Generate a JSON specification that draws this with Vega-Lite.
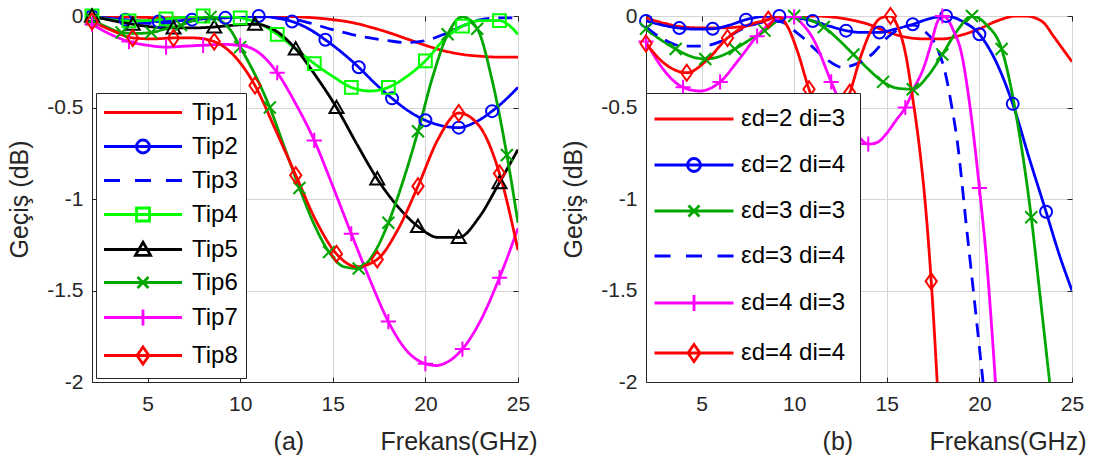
{
  "$schema": "https://vega.github.io/schema/vega-lite/v6.json",
  "background": "white",
  "padding": {"left": 6, "top": 3, "right": 0, "bottom": 0},
  "spacing": 22,
  "datasets": {
    "a": [
      {"s":"Tip1","x":2,"y":0},{"s":"Tip1","x":3,"y":-0.002},{"s":"Tip1","x":4,"y":-0.005},{"s":"Tip1","x":5,"y":-0.008},{"s":"Tip1","x":6,"y":-0.01},{"s":"Tip1","x":7,"y":-0.008},{"s":"Tip1","x":8,"y":-0.005},{"s":"Tip1","x":9,"y":-0.002},{"s":"Tip1","x":10,"y":0},{"s":"Tip1","x":11,"y":0},{"s":"Tip1","x":12,"y":0},{"s":"Tip1","x":13,"y":-0.004},{"s":"Tip1","x":14,"y":-0.01},{"s":"Tip1","x":15,"y":-0.02},{"s":"Tip1","x":16,"y":-0.035},{"s":"Tip1","x":17,"y":-0.06},{"s":"Tip1","x":18,"y":-0.09},{"s":"Tip1","x":19,"y":-0.125},{"s":"Tip1","x":20,"y":-0.16},{"s":"Tip1","x":21,"y":-0.19},{"s":"Tip1","x":22,"y":-0.21},{"s":"Tip1","x":23,"y":-0.22},{"s":"Tip1","x":24,"y":-0.225},{"s":"Tip1","x":25,"y":-0.225},
      {"s":"Tip2","x":2,"y":0},{"s":"Tip2","x":2.9,"y":-0.012},{"s":"Tip2","x":3.8,"y":-0.02},{"s":"Tip2","x":4.7,"y":-0.027},{"s":"Tip2","x":5.6,"y":-0.03},{"s":"Tip2","x":6.5,"y":-0.027},{"s":"Tip2","x":7.4,"y":-0.02},{"s":"Tip2","x":8.3,"y":-0.014},{"s":"Tip2","x":9.2,"y":-0.01},{"s":"Tip2","x":10.1,"y":-0.004},{"s":"Tip2","x":11,"y":0},{"s":"Tip2","x":11.9,"y":-0.01},{"s":"Tip2","x":12.8,"y":-0.03},{"s":"Tip2","x":13.7,"y":-0.07},{"s":"Tip2","x":14.6,"y":-0.13},{"s":"Tip2","x":15.5,"y":-0.2},{"s":"Tip2","x":16.4,"y":-0.28},{"s":"Tip2","x":17.3,"y":-0.37},{"s":"Tip2","x":18.2,"y":-0.45},{"s":"Tip2","x":19.1,"y":-0.52},{"s":"Tip2","x":20,"y":-0.57},{"s":"Tip2","x":20.9,"y":-0.6},{"s":"Tip2","x":21.8,"y":-0.61},{"s":"Tip2","x":22.7,"y":-0.58},{"s":"Tip2","x":23.6,"y":-0.52},{"s":"Tip2","x":24.3,"y":-0.46},{"s":"Tip2","x":25,"y":-0.39},
      {"s":"Tip3","x":2,"y":0},{"s":"Tip3","x":3,"y":-0.02},{"s":"Tip3","x":4,"y":-0.03},{"s":"Tip3","x":5,"y":-0.04},{"s":"Tip3","x":6,"y":-0.04},{"s":"Tip3","x":7,"y":-0.03},{"s":"Tip3","x":8,"y":-0.02},{"s":"Tip3","x":9,"y":-0.01},{"s":"Tip3","x":10,"y":-0.005},{"s":"Tip3","x":11,"y":-0.005},{"s":"Tip3","x":12,"y":-0.01},{"s":"Tip3","x":13,"y":-0.02},{"s":"Tip3","x":14,"y":-0.045},{"s":"Tip3","x":15,"y":-0.075},{"s":"Tip3","x":16,"y":-0.1},{"s":"Tip3","x":17,"y":-0.12},{"s":"Tip3","x":18,"y":-0.135},{"s":"Tip3","x":19,"y":-0.145},{"s":"Tip3","x":20,"y":-0.135},{"s":"Tip3","x":21,"y":-0.1},{"s":"Tip3","x":22,"y":-0.055},{"s":"Tip3","x":23,"y":-0.02},{"s":"Tip3","x":24,"y":-0.01},{"s":"Tip3","x":25,"y":-0.01},
      {"s":"Tip4","x":2,"y":0},{"s":"Tip4","x":3,"y":-0.02},{"s":"Tip4","x":4,"y":-0.027},{"s":"Tip4","x":5,"y":-0.025},{"s":"Tip4","x":6,"y":-0.016},{"s":"Tip4","x":7,"y":-0.006},{"s":"Tip4","x":8,"y":0},{"s":"Tip4","x":9,"y":0},{"s":"Tip4","x":10,"y":-0.01},{"s":"Tip4","x":11,"y":-0.04},{"s":"Tip4","x":12,"y":-0.1},{"s":"Tip4","x":13,"y":-0.18},{"s":"Tip4","x":14,"y":-0.26},{"s":"Tip4","x":15,"y":-0.33},{"s":"Tip4","x":16,"y":-0.39},{"s":"Tip4","x":17,"y":-0.41},{"s":"Tip4","x":18,"y":-0.39},{"s":"Tip4","x":19,"y":-0.33},{"s":"Tip4","x":20,"y":-0.245},{"s":"Tip4","x":21,"y":-0.13},{"s":"Tip4","x":22,"y":-0.055},{"s":"Tip4","x":23,"y":-0.025},{"s":"Tip4","x":24,"y":-0.025},{"s":"Tip4","x":24.5,"y":-0.05},{"s":"Tip4","x":25,"y":-0.1},
      {"s":"Tip5","x":2,"y":0},{"s":"Tip5","x":3.1,"y":-0.025},{"s":"Tip5","x":4.2,"y":-0.045},{"s":"Tip5","x":5.3,"y":-0.06},{"s":"Tip5","x":6.4,"y":-0.065},{"s":"Tip5","x":7.5,"y":-0.065},{"s":"Tip5","x":8.6,"y":-0.06},{"s":"Tip5","x":9.7,"y":-0.05},{"s":"Tip5","x":10.8,"y":-0.045},{"s":"Tip5","x":11.9,"y":-0.08},{"s":"Tip5","x":13,"y":-0.18},{"s":"Tip5","x":14.1,"y":-0.33},{"s":"Tip5","x":15.2,"y":-0.5},{"s":"Tip5","x":16.3,"y":-0.7},{"s":"Tip5","x":17.4,"y":-0.89},{"s":"Tip5","x":18.5,"y":-1.04},{"s":"Tip5","x":19.6,"y":-1.15},{"s":"Tip5","x":20.7,"y":-1.21},{"s":"Tip5","x":21.8,"y":-1.21},{"s":"Tip5","x":22.9,"y":-1.1},{"s":"Tip5","x":24,"y":-0.91},{"s":"Tip5","x":25,"y":-0.73},
      {"s":"Tip6","x":2,"y":-0.02},{"s":"Tip6","x":2.8,"y":-0.06},{"s":"Tip6","x":3.6,"y":-0.09},{"s":"Tip6","x":4.4,"y":-0.095},{"s":"Tip6","x":5.2,"y":-0.09},{"s":"Tip6","x":6,"y":-0.07},{"s":"Tip6","x":6.8,"y":-0.05},{"s":"Tip6","x":7.6,"y":-0.02},{"s":"Tip6","x":8.4,"y":-0.005},{"s":"Tip6","x":9,"y":-0.03},{"s":"Tip6","x":9.5,"y":-0.08},{"s":"Tip6","x":10,"y":-0.17},{"s":"Tip6","x":10.8,"y":-0.32},{"s":"Tip6","x":11.6,"y":-0.5},{"s":"Tip6","x":12.4,"y":-0.72},{"s":"Tip6","x":13.2,"y":-0.94},{"s":"Tip6","x":14,"y":-1.14},{"s":"Tip6","x":14.8,"y":-1.29},{"s":"Tip6","x":15.6,"y":-1.37},{"s":"Tip6","x":16.4,"y":-1.38},{"s":"Tip6","x":17.2,"y":-1.3},{"s":"Tip6","x":18,"y":-1.13},{"s":"Tip6","x":18.8,"y":-0.9},{"s":"Tip6","x":19.6,"y":-0.63},{"s":"Tip6","x":20.4,"y":-0.33},{"s":"Tip6","x":21.2,"y":-0.1},{"s":"Tip6","x":22,"y":-0.005},{"s":"Tip6","x":22.8,"y":-0.07},{"s":"Tip6","x":23.6,"y":-0.35},{"s":"Tip6","x":24.4,"y":-0.76},{"s":"Tip6","x":25,"y":-1.13},
      {"s":"Tip7","x":2,"y":-0.045},{"s":"Tip7","x":3,"y":-0.1},{"s":"Tip7","x":4,"y":-0.14},{"s":"Tip7","x":5,"y":-0.16},{"s":"Tip7","x":6,"y":-0.17},{"s":"Tip7","x":7,"y":-0.165},{"s":"Tip7","x":8,"y":-0.16},{"s":"Tip7","x":9,"y":-0.155},{"s":"Tip7","x":10,"y":-0.16},{"s":"Tip7","x":11,"y":-0.2},{"s":"Tip7","x":12,"y":-0.31},{"s":"Tip7","x":13,"y":-0.48},{"s":"Tip7","x":14,"y":-0.68},{"s":"Tip7","x":15,"y":-0.93},{"s":"Tip7","x":16,"y":-1.19},{"s":"Tip7","x":17,"y":-1.44},{"s":"Tip7","x":18,"y":-1.67},{"s":"Tip7","x":19,"y":-1.83},{"s":"Tip7","x":20,"y":-1.9},{"s":"Tip7","x":20.6,"y":-1.91},{"s":"Tip7","x":21,"y":-1.9},{"s":"Tip7","x":22,"y":-1.82},{"s":"Tip7","x":23,"y":-1.66},{"s":"Tip7","x":24,"y":-1.43},{"s":"Tip7","x":25,"y":-1.16},
      {"s":"Tip8","x":2,"y":-0.03},{"s":"Tip8","x":3.1,"y":-0.08},{"s":"Tip8","x":4.2,"y":-0.12},{"s":"Tip8","x":5.3,"y":-0.125},{"s":"Tip8","x":6.4,"y":-0.12},{"s":"Tip8","x":7.5,"y":-0.12},{"s":"Tip8","x":8.6,"y":-0.14},{"s":"Tip8","x":9.7,"y":-0.22},{"s":"Tip8","x":10.8,"y":-0.38},{"s":"Tip8","x":11.9,"y":-0.62},{"s":"Tip8","x":13,"y":-0.87},{"s":"Tip8","x":14.1,"y":-1.12},{"s":"Tip8","x":15.2,"y":-1.3},{"s":"Tip8","x":16.3,"y":-1.37},{"s":"Tip8","x":17.4,"y":-1.33},{"s":"Tip8","x":18.5,"y":-1.17},{"s":"Tip8","x":19.6,"y":-0.93},{"s":"Tip8","x":20.7,"y":-0.67},{"s":"Tip8","x":21.8,"y":-0.53},{"s":"Tip8","x":22.9,"y":-0.6},{"s":"Tip8","x":24,"y":-0.86},{"s":"Tip8","x":25,"y":-1.28}
    ],
    "am": [
      {"s":"Tip2","x":2,"y":0},{"s":"Tip2","x":3.8,"y":-0.02},{"s":"Tip2","x":5.6,"y":-0.03},{"s":"Tip2","x":7.4,"y":-0.02},{"s":"Tip2","x":9.2,"y":-0.01},{"s":"Tip2","x":11,"y":0},{"s":"Tip2","x":12.8,"y":-0.03},{"s":"Tip2","x":14.6,"y":-0.13},{"s":"Tip2","x":16.4,"y":-0.28},{"s":"Tip2","x":18.2,"y":-0.45},{"s":"Tip2","x":20,"y":-0.57},{"s":"Tip2","x":21.8,"y":-0.61},{"s":"Tip2","x":23.6,"y":-0.52},
      {"s":"Tip4","x":2,"y":0},{"s":"Tip4","x":4,"y":-0.027},{"s":"Tip4","x":6,"y":-0.016},{"s":"Tip4","x":8,"y":0},{"s":"Tip4","x":10,"y":-0.01},{"s":"Tip4","x":12,"y":-0.1},{"s":"Tip4","x":14,"y":-0.26},{"s":"Tip4","x":16,"y":-0.39},{"s":"Tip4","x":18,"y":-0.39},{"s":"Tip4","x":20,"y":-0.245},{"s":"Tip4","x":22,"y":-0.055},{"s":"Tip4","x":24,"y":-0.025},
      {"s":"Tip5","x":2,"y":0},{"s":"Tip5","x":4.2,"y":-0.045},{"s":"Tip5","x":6.4,"y":-0.065},{"s":"Tip5","x":8.6,"y":-0.06},{"s":"Tip5","x":10.8,"y":-0.045},{"s":"Tip5","x":13,"y":-0.18},{"s":"Tip5","x":15.2,"y":-0.5},{"s":"Tip5","x":17.4,"y":-0.89},{"s":"Tip5","x":19.6,"y":-1.15},{"s":"Tip5","x":21.8,"y":-1.21},{"s":"Tip5","x":24,"y":-0.91},
      {"s":"Tip6","x":2,"y":-0.02},{"s":"Tip6","x":3.6,"y":-0.09},{"s":"Tip6","x":5.2,"y":-0.09},{"s":"Tip6","x":6.8,"y":-0.05},{"s":"Tip6","x":8.4,"y":-0.005},{"s":"Tip6","x":10,"y":-0.17},{"s":"Tip6","x":11.6,"y":-0.5},{"s":"Tip6","x":13.2,"y":-0.94},{"s":"Tip6","x":14.8,"y":-1.29},{"s":"Tip6","x":16.4,"y":-1.38},{"s":"Tip6","x":18,"y":-1.13},{"s":"Tip6","x":19.6,"y":-0.63},{"s":"Tip6","x":21.2,"y":-0.1},{"s":"Tip6","x":22.8,"y":-0.07},{"s":"Tip6","x":24.4,"y":-0.76},
      {"s":"Tip7","x":2,"y":-0.045},{"s":"Tip7","x":4,"y":-0.14},{"s":"Tip7","x":6,"y":-0.17},{"s":"Tip7","x":8,"y":-0.16},{"s":"Tip7","x":10,"y":-0.16},{"s":"Tip7","x":12,"y":-0.31},{"s":"Tip7","x":14,"y":-0.68},{"s":"Tip7","x":16,"y":-1.19},{"s":"Tip7","x":18,"y":-1.67},{"s":"Tip7","x":20,"y":-1.9},{"s":"Tip7","x":22,"y":-1.82},{"s":"Tip7","x":24,"y":-1.43},
      {"s":"Tip8","x":2,"y":-0.03},{"s":"Tip8","x":4.2,"y":-0.12},{"s":"Tip8","x":6.4,"y":-0.12},{"s":"Tip8","x":8.6,"y":-0.14},{"s":"Tip8","x":10.8,"y":-0.38},{"s":"Tip8","x":13,"y":-0.87},{"s":"Tip8","x":15.2,"y":-1.3},{"s":"Tip8","x":17.4,"y":-1.33},{"s":"Tip8","x":19.6,"y":-0.93},{"s":"Tip8","x":21.8,"y":-0.53},{"s":"Tip8","x":24,"y":-0.86}
    ],
    "b": [
      {"s":"εd=2 di=3","x":2,"y":-0.01},{"s":"εd=2 di=3","x":3,"y":-0.04},{"s":"εd=2 di=3","x":4,"y":-0.06},{"s":"εd=2 di=3","x":5,"y":-0.065},{"s":"εd=2 di=3","x":6,"y":-0.065},{"s":"εd=2 di=3","x":7,"y":-0.06},{"s":"εd=2 di=3","x":8,"y":-0.04},{"s":"εd=2 di=3","x":8.5,"y":-0.02},{"s":"εd=2 di=3","x":9,"y":-0.005},{"s":"εd=2 di=3","x":10,"y":0},{"s":"εd=2 di=3","x":11,"y":0},{"s":"εd=2 di=3","x":12,"y":-0.005},{"s":"εd=2 di=3","x":13,"y":-0.02},{"s":"εd=2 di=3","x":14,"y":-0.045},{"s":"εd=2 di=3","x":15,"y":-0.085},{"s":"εd=2 di=3","x":16,"y":-0.115},{"s":"εd=2 di=3","x":17,"y":-0.125},{"s":"εd=2 di=3","x":18,"y":-0.125},{"s":"εd=2 di=3","x":19,"y":-0.105},{"s":"εd=2 di=3","x":20,"y":-0.07},{"s":"εd=2 di=3","x":21,"y":-0.025},{"s":"εd=2 di=3","x":22,"y":0},{"s":"εd=2 di=3","x":22.5,"y":0},{"s":"εd=2 di=3","x":23,"y":-0.01},{"s":"εd=2 di=3","x":23.5,"y":-0.04},{"s":"εd=2 di=3","x":24,"y":-0.11},{"s":"εd=2 di=3","x":24.5,"y":-0.18},{"s":"εd=2 di=3","x":25,"y":-0.25},
      {"s":"εd=2 di=4","x":2,"y":-0.027},{"s":"εd=2 di=4","x":2.9,"y":-0.05},{"s":"εd=2 di=4","x":3.8,"y":-0.066},{"s":"εd=2 di=4","x":4.7,"y":-0.072},{"s":"εd=2 di=4","x":5.6,"y":-0.07},{"s":"εd=2 di=4","x":6.5,"y":-0.05},{"s":"εd=2 di=4","x":7.4,"y":-0.02},{"s":"εd=2 di=4","x":8.3,"y":-0.003},{"s":"εd=2 di=4","x":9.2,"y":0},{"s":"εd=2 di=4","x":10.1,"y":-0.01},{"s":"εd=2 di=4","x":11,"y":-0.027},{"s":"εd=2 di=4","x":11.9,"y":-0.055},{"s":"εd=2 di=4","x":12.8,"y":-0.08},{"s":"εd=2 di=4","x":13.7,"y":-0.09},{"s":"εd=2 di=4","x":14.6,"y":-0.09},{"s":"εd=2 di=4","x":15.5,"y":-0.07},{"s":"εd=2 di=4","x":16.4,"y":-0.045},{"s":"εd=2 di=4","x":17.3,"y":-0.015},{"s":"εd=2 di=4","x":18.2,"y":0},{"s":"εd=2 di=4","x":19.1,"y":-0.03},{"s":"εd=2 di=4","x":20,"y":-0.1},{"s":"εd=2 di=4","x":20.9,"y":-0.25},{"s":"εd=2 di=4","x":21.8,"y":-0.48},{"s":"εd=2 di=4","x":22.7,"y":-0.78},{"s":"εd=2 di=4","x":23.6,"y":-1.07},{"s":"εd=2 di=4","x":24.3,"y":-1.3},{"s":"εd=2 di=4","x":25,"y":-1.5},
      {"s":"εd=3 di=3","x":2,"y":-0.07},{"s":"εd=3 di=3","x":2.8,"y":-0.13},{"s":"εd=3 di=3","x":3.6,"y":-0.18},{"s":"εd=3 di=3","x":4.4,"y":-0.22},{"s":"εd=3 di=3","x":5.2,"y":-0.235},{"s":"εd=3 di=3","x":6,"y":-0.22},{"s":"εd=3 di=3","x":6.8,"y":-0.18},{"s":"εd=3 di=3","x":7.6,"y":-0.13},{"s":"εd=3 di=3","x":8.4,"y":-0.08},{"s":"εd=3 di=3","x":9.2,"y":-0.02},{"s":"εd=3 di=3","x":10,"y":0},{"s":"εd=3 di=3","x":10.8,"y":-0.02},{"s":"εd=3 di=3","x":11.6,"y":-0.06},{"s":"εd=3 di=3","x":12.4,"y":-0.13},{"s":"εd=3 di=3","x":13.2,"y":-0.21},{"s":"εd=3 di=3","x":14,"y":-0.29},{"s":"εd=3 di=3","x":14.8,"y":-0.36},{"s":"εd=3 di=3","x":15.6,"y":-0.395},{"s":"εd=3 di=3","x":16.4,"y":-0.4},{"s":"εd=3 di=3","x":17.2,"y":-0.33},{"s":"εd=3 di=3","x":18,"y":-0.21},{"s":"εd=3 di=3","x":18.8,"y":-0.08},{"s":"εd=3 di=3","x":19.6,"y":0},{"s":"εd=3 di=3","x":20.4,"y":-0.05},{"s":"εd=3 di=3","x":21.2,"y":-0.18},{"s":"εd=3 di=3","x":22,"y":-0.55},{"s":"εd=3 di=3","x":22.8,"y":-1.1},{"s":"εd=3 di=3","x":23.3,"y":-1.55},{"s":"εd=3 di=3","x":23.9,"y":-2.1},
      {"s":"εd=3 di=4","x":2,"y":-0.06},{"s":"εd=3 di=4","x":3,"y":-0.13},{"s":"εd=3 di=4","x":4,"y":-0.165},{"s":"εd=3 di=4","x":5,"y":-0.165},{"s":"εd=3 di=4","x":6,"y":-0.14},{"s":"εd=3 di=4","x":7,"y":-0.08},{"s":"εd=3 di=4","x":8,"y":-0.04},{"s":"εd=3 di=4","x":9,"y":-0.025},{"s":"εd=3 di=4","x":9.5,"y":-0.04},{"s":"εd=3 di=4","x":10,"y":-0.08},{"s":"εd=3 di=4","x":10.5,"y":-0.12},{"s":"εd=3 di=4","x":11,"y":-0.17},{"s":"εd=3 di=4","x":11.8,"y":-0.24},{"s":"εd=3 di=4","x":12.6,"y":-0.28},{"s":"εd=3 di=4","x":13.4,"y":-0.26},{"s":"εd=3 di=4","x":14.3,"y":-0.2},{"s":"εd=3 di=4","x":15,"y":-0.12},{"s":"εd=3 di=4","x":15.7,"y":-0.07},{"s":"εd=3 di=4","x":16.4,"y":-0.05},{"s":"εd=3 di=4","x":17,"y":-0.08},{"s":"εd=3 di=4","x":17.7,"y":-0.17},{"s":"εd=3 di=4","x":18.2,"y":-0.33},{"s":"εd=3 di=4","x":18.5,"y":-0.49},{"s":"εd=3 di=4","x":18.8,"y":-0.68},{"s":"εd=3 di=4","x":19.3,"y":-1.15},{"s":"εd=3 di=4","x":19.8,"y":-1.62},{"s":"εd=3 di=4","x":20.3,"y":-2.1},
      {"s":"εd=4 di=3","x":2,"y":-0.14},{"s":"εd=4 di=3","x":3,"y":-0.3},{"s":"εd=4 di=3","x":4,"y":-0.39},{"s":"εd=4 di=3","x":4.9,"y":-0.41},{"s":"εd=4 di=3","x":6,"y":-0.36},{"s":"εd=4 di=3","x":7,"y":-0.24},{"s":"εd=4 di=3","x":8,"y":-0.11},{"s":"εd=4 di=3","x":9,"y":-0.02},{"s":"εd=4 di=3","x":9.8,"y":0},{"s":"εd=4 di=3","x":10.5,"y":-0.05},{"s":"εd=4 di=3","x":11,"y":-0.12},{"s":"εd=4 di=3","x":12,"y":-0.36},{"s":"εd=4 di=3","x":12.5,"y":-0.48},{"s":"εd=4 di=3","x":13,"y":-0.58},{"s":"εd=4 di=3","x":13.5,"y":-0.66},{"s":"εd=4 di=3","x":14,"y":-0.7},{"s":"εd=4 di=3","x":14.5,"y":-0.69},{"s":"εd=4 di=3","x":15,"y":-0.64},{"s":"εd=4 di=3","x":15.5,"y":-0.57},{"s":"εd=4 di=3","x":16,"y":-0.5},{"s":"εd=4 di=3","x":16.5,"y":-0.39},{"s":"εd=4 di=3","x":17,"y":-0.28},{"s":"εd=4 di=3","x":17.4,"y":-0.15},{"s":"εd=4 di=3","x":17.7,"y":-0.04},{"s":"εd=4 di=3","x":18,"y":0},{"s":"εd=4 di=3","x":18.3,"y":-0.02},{"s":"εd=4 di=3","x":18.6,"y":-0.08},{"s":"εd=4 di=3","x":19,"y":-0.19},{"s":"εd=4 di=3","x":19.5,"y":-0.5},{"s":"εd=4 di=3","x":20,"y":-0.94},{"s":"εd=4 di=3","x":20.4,"y":-1.35},{"s":"εd=4 di=3","x":20.9,"y":-2.05},
      {"s":"εd=4 di=4","x":2,"y":-0.15},{"s":"εd=4 di=4","x":3,"y":-0.26},{"s":"εd=4 di=4","x":4.2,"y":-0.31},{"s":"εd=4 di=4","x":5.3,"y":-0.24},{"s":"εd=4 di=4","x":6.4,"y":-0.12},{"s":"εd=4 di=4","x":7.5,"y":-0.05},{"s":"εd=4 di=4","x":8.6,"y":-0.02},{"s":"εd=4 di=4","x":9.1,"y":0},{"s":"εd=4 di=4","x":9.6,"y":-0.05},{"s":"εd=4 di=4","x":10.2,"y":-0.2},{"s":"εd=4 di=4","x":10.8,"y":-0.4},{"s":"εd=4 di=4","x":11.4,"y":-0.55},{"s":"εd=4 di=4","x":11.9,"y":-0.6},{"s":"εd=4 di=4","x":12.4,"y":-0.56},{"s":"εd=4 di=4","x":13,"y":-0.42},{"s":"εd=4 di=4","x":13.6,"y":-0.22},{"s":"εd=4 di=4","x":14.2,"y":-0.07},{"s":"εd=4 di=4","x":14.7,"y":-0.01},{"s":"εd=4 di=4","x":15.2,"y":0},{"s":"εd=4 di=4","x":15.6,"y":-0.06},{"s":"εd=4 di=4","x":16,"y":-0.2},{"s":"εd=4 di=4","x":16.4,"y":-0.45},{"s":"εd=4 di=4","x":16.8,"y":-0.75},{"s":"εd=4 di=4","x":17.1,"y":-1.05},{"s":"εd=4 di=4","x":17.4,"y":-1.45},{"s":"εd=4 di=4","x":17.75,"y":-2.05}
    ],
    "bm": [
      {"s":"εd=2 di=4","x":2,"y":-0.027},{"s":"εd=2 di=4","x":3.8,"y":-0.066},{"s":"εd=2 di=4","x":5.6,"y":-0.07},{"s":"εd=2 di=4","x":7.4,"y":-0.02},{"s":"εd=2 di=4","x":9.2,"y":0},{"s":"εd=2 di=4","x":11,"y":-0.027},{"s":"εd=2 di=4","x":12.8,"y":-0.08},{"s":"εd=2 di=4","x":14.6,"y":-0.09},{"s":"εd=2 di=4","x":16.4,"y":-0.045},{"s":"εd=2 di=4","x":18.2,"y":0},{"s":"εd=2 di=4","x":20,"y":-0.1},{"s":"εd=2 di=4","x":21.8,"y":-0.48},{"s":"εd=2 di=4","x":23.6,"y":-1.07},
      {"s":"εd=3 di=3","x":2,"y":-0.07},{"s":"εd=3 di=3","x":3.6,"y":-0.18},{"s":"εd=3 di=3","x":5.2,"y":-0.235},{"s":"εd=3 di=3","x":6.8,"y":-0.18},{"s":"εd=3 di=3","x":8.4,"y":-0.08},{"s":"εd=3 di=3","x":10,"y":0},{"s":"εd=3 di=3","x":11.6,"y":-0.06},{"s":"εd=3 di=3","x":13.2,"y":-0.21},{"s":"εd=3 di=3","x":14.8,"y":-0.36},{"s":"εd=3 di=3","x":16.4,"y":-0.4},{"s":"εd=3 di=3","x":18,"y":-0.21},{"s":"εd=3 di=3","x":19.6,"y":0},{"s":"εd=3 di=3","x":21.2,"y":-0.18},{"s":"εd=3 di=3","x":22.8,"y":-1.1},
      {"s":"εd=4 di=3","x":2,"y":-0.14},{"s":"εd=4 di=3","x":4,"y":-0.39},{"s":"εd=4 di=3","x":6,"y":-0.36},{"s":"εd=4 di=3","x":8,"y":-0.11},{"s":"εd=4 di=3","x":10,"y":-0.005},{"s":"εd=4 di=3","x":12,"y":-0.36},{"s":"εd=4 di=3","x":14,"y":-0.7},{"s":"εd=4 di=3","x":16,"y":-0.5},{"s":"εd=4 di=3","x":18,"y":0},{"s":"εd=4 di=3","x":20,"y":-0.94},
      {"s":"εd=4 di=4","x":2,"y":-0.15},{"s":"εd=4 di=4","x":4.2,"y":-0.31},{"s":"εd=4 di=4","x":6.4,"y":-0.12},{"s":"εd=4 di=4","x":8.6,"y":-0.02},{"s":"εd=4 di=4","x":10.8,"y":-0.4},{"s":"εd=4 di=4","x":13,"y":-0.42},{"s":"εd=4 di=4","x":15.2,"y":0},{"s":"εd=4 di=4","x":17.4,"y":-1.45}
    ]
  },
  "hconcat": [
    {
      "width": 426, "height": 366,
      "layer": [
        {
          "data": {"name": "a"},
          "mark": {"type": "line", "strokeWidth": 2.8, "interpolate": "monotone", "clip": true},
          "encoding": {
            "x": {"field": "x", "type": "quantitative", "scale": {"domain": [2, 25], "nice": false, "zero": false},
              "axis": {"orient": "bottom", "values": [5, 10, 15, 20, 25], "grid": true, "tickSize": -5, "labelPadding": 16, "labelFlush": false, "labelOverlap": false, "title": "(a)\u00a0\u00a0\u00a0\u00a0\u00a0\u00a0\u00a0\u00a0\u00a0\u00a0\u00a0Frekans(GHz)", "titleAlign": "right", "titleX": 445, "titlePadding": 15}},
            "y": {"field": "y", "type": "quantitative", "scale": {"domain": [-2, 0], "nice": false, "zero": false},
              "axis": {"orient": "left", "values": [-2, -1.5, -1, -0.5, 0], "grid": true, "tickSize": -5, "labelPadding": 14, "labelExpr": "'' + datum.value", "title": "Geçiş (dB)", "titlePadding": 14.5}},
            "color": {"field": "s", "type": "nominal", "legend": null, "scale": {"domain": ["Tip1","Tip2","Tip3","Tip4","Tip5","Tip6","Tip7","Tip8"], "range": ["#FF0000","#0000FF","#0000FF","#00FF00","#000000","#00A600","#FF00FF","#FF0000"]}},
            "strokeDash": {"field": "s", "type": "nominal", "legend": null, "scale": {"domain": ["Tip1","Tip2","Tip3","Tip4","Tip5","Tip6","Tip7","Tip8"], "range": [[1,0],[1,0],[14,9],[1,0],[1,0],[1,0],[1,0],[1,0]]}}
          }
        },
        {
          "data": {"name": "am"},
          "mark": {"type": "point", "filled": false, "strokeWidth": 2, "size": 256, "opacity": 1},
          "encoding": {
            "x": {"field": "x", "type": "quantitative", "scale": {"domain": [2, 25], "nice": false, "zero": false},
              "axis": {"orient": "top", "values": [5, 10, 15, 20, 25], "grid": false, "labels": false, "domain": false, "tickSize": -5, "title": null}},
            "y": {"field": "y", "type": "quantitative", "scale": {"domain": [-2, 0], "nice": false, "zero": false},
              "axis": {"orient": "right", "values": [-2, -1.5, -1, -0.5, 0], "grid": false, "labels": false, "domain": false, "tickSize": -5, "title": null}},
            "color": {"field": "s", "type": "nominal", "legend": null, "scale": {"domain": ["Tip2","Tip4","Tip5","Tip6","Tip7","Tip8"], "range": ["#0000FF","#00FF00","#000000","#00A600","#FF00FF","#FF0000"]}},
            "shape": {"field": "s", "type": "nominal", "legend": null, "scale": {"domain": ["Tip2","Tip4","Tip5","Tip6","Tip7","Tip8"], "range": ["M0.75,0A0.75,0.75,0,1,1,-0.75,0A0.75,0.75,0,1,1,0.75,0Z","M-0.8,-0.8H0.8V0.8H-0.8Z","M0,-0.85L0.875,0.7H-0.875Z","M-0.75,-0.75L0.75,0.75M-0.75,0.75L0.75,-0.75","M-0.95,0H0.95M0,-0.95V0.95","M0,-1L0.7,0L0,1L-0.7,0Z"]}}
          }
        },
        {
          "data": {"name": "a"},
          "transform": [{"filter": "datum.x < 0"}],
          "mark": {"type": "point", "filled": false, "strokeWidth": 2.8, "opacity": 1},
          "encoding": {
            "x": {"field": "x", "type": "quantitative", "scale": {"domain": [2, 25], "nice": false, "zero": false}, "axis": null},
            "y": {"field": "y", "type": "quantitative", "scale": {"domain": [-2, 0], "nice": false, "zero": false}, "axis": null},
            "color": {"field": "s", "type": "nominal", "scale": {"domain": ["Tip1","Tip2","Tip3","Tip4","Tip5","Tip6","Tip7","Tip8"], "range": ["#FF0000","#0000FF","#0000FF","#00FF00","#000000","#00A600","#FF00FF","#FF0000"]},
              "legend": {"title": null, "orient": "bottom-left", "offset": 4, "padding": 7.5, "rowPadding": 9, "symbolSize": 400, "symbolStrokeWidth": 2.8, "symbolOpacity": 1, "labelFontSize": 24, "labelColor": "#000000", "labelOffset": 64.5, "strokeColor": "#262626", "fillColor": "#FFFFFF", "labelLimit": 300}},
            "shape": {"field": "s", "type": "nominal", "scale": {"domain": ["Tip1","Tip2","Tip3","Tip4","Tip5","Tip6","Tip7","Tip8"], "range": ["M-1.15,0H6.65","M-1.15,0H6.65M3.4,0A0.65,0.65,0,1,1,2.1,0A0.65,0.65,0,1,1,3.4,0Z","M-1.15,0H0.45M1.95,0H3.55M5.05,0H6.65","M-1.15,0H6.65M2.1,-0.65H3.4V0.65H2.1Z","M-1.15,0H6.65M2.75,-0.72L3.5,0.58H2Z","M-1.15,0H6.65M2.2,-0.55L3.3,0.55M2.2,0.55L3.3,-0.55","M-1.15,0H6.65M2.75,-0.8V0.8","M-1.15,0H6.65M2.75,-0.85L3.35,0L2.75,0.85L2.15,0Z"]},
              "legend": {"title": null, "orient": "bottom-left", "offset": 4, "padding": 7.5, "rowPadding": 9, "symbolSize": 400, "symbolStrokeWidth": 2.8, "symbolOpacity": 1, "labelFontSize": 24, "labelColor": "#000000", "labelOffset": 64.5, "strokeColor": "#262626", "fillColor": "#FFFFFF", "labelLimit": 300}}
          }
        }
      ],
      "resolve": {"scale": {"color": "independent", "shape": "independent", "strokeDash": "independent"}, "axis": {"x": "independent", "y": "independent"}}
    },
    {
      "width": 426, "height": 366,
      "layer": [
        {
          "data": {"name": "b"},
          "mark": {"type": "line", "strokeWidth": 2.8, "interpolate": "monotone", "clip": true},
          "encoding": {
            "x": {"field": "x", "type": "quantitative", "scale": {"domain": [2, 25], "nice": false, "zero": false},
              "axis": {"orient": "bottom", "values": [5, 10, 15, 20, 25], "grid": true, "tickSize": -5, "labelPadding": 16, "labelFlush": false, "labelOverlap": false, "title": "(b)\u00a0\u00a0\u00a0\u00a0\u00a0\u00a0\u00a0\u00a0\u00a0\u00a0\u00a0Frekans(GHz)", "titleAlign": "right", "titleX": 440, "titlePadding": 15}},
            "y": {"field": "y", "type": "quantitative", "scale": {"domain": [-2, 0], "nice": false, "zero": false},
              "axis": {"orient": "left", "values": [-2, -1.5, -1, -0.5, 0], "grid": true, "tickSize": -5, "labelPadding": 14, "labelExpr": "'' + datum.value", "title": "Geçiş (dB)", "titlePadding": 14.5}},
            "color": {"field": "s", "type": "nominal", "legend": null, "scale": {"domain": ["εd=2 di=3","εd=2 di=4","εd=3 di=3","εd=3 di=4","εd=4 di=3","εd=4 di=4"], "range": ["#FF0000","#0000FF","#00A600","#0000FF","#FF00FF","#FF0000"]}},
            "strokeDash": {"field": "s", "type": "nominal", "legend": null, "scale": {"domain": ["εd=2 di=3","εd=2 di=4","εd=3 di=3","εd=3 di=4","εd=4 di=3","εd=4 di=4"], "range": [[1,0],[1,0],[1,0],[14,9],[1,0],[1,0]]}}
          }
        },
        {
          "data": {"name": "bm"},
          "mark": {"type": "point", "filled": false, "strokeWidth": 2, "size": 256, "opacity": 1},
          "encoding": {
            "x": {"field": "x", "type": "quantitative", "scale": {"domain": [2, 25], "nice": false, "zero": false},
              "axis": {"orient": "top", "values": [5, 10, 15, 20, 25], "grid": false, "labels": false, "domain": false, "tickSize": -5, "title": null}},
            "y": {"field": "y", "type": "quantitative", "scale": {"domain": [-2, 0], "nice": false, "zero": false},
              "axis": {"orient": "right", "values": [-2, -1.5, -1, -0.5, 0], "grid": false, "labels": false, "domain": false, "tickSize": -5, "title": null}},
            "color": {"field": "s", "type": "nominal", "legend": null, "scale": {"domain": ["εd=2 di=4","εd=3 di=3","εd=4 di=3","εd=4 di=4"], "range": ["#0000FF","#00A600","#FF00FF","#FF0000"]}},
            "shape": {"field": "s", "type": "nominal", "legend": null, "scale": {"domain": ["εd=2 di=4","εd=3 di=3","εd=4 di=3","εd=4 di=4"], "range": ["M0.75,0A0.75,0.75,0,1,1,-0.75,0A0.75,0.75,0,1,1,0.75,0Z","M-0.75,-0.75L0.75,0.75M-0.75,0.75L0.75,-0.75","M-0.95,0H0.95M0,-0.95V0.95","M0,-1L0.7,0L0,1L-0.7,0Z"]}}
          }
        },
        {
          "data": {"name": "b"},
          "transform": [{"filter": "datum.x < 0"}],
          "mark": {"type": "point", "filled": false, "strokeWidth": 2.8, "opacity": 1},
          "encoding": {
            "x": {"field": "x", "type": "quantitative", "scale": {"domain": [2, 25], "nice": false, "zero": false}, "axis": null},
            "y": {"field": "y", "type": "quantitative", "scale": {"domain": [-2, 0], "nice": false, "zero": false}, "axis": null},
            "color": {"field": "s", "type": "nominal", "scale": {"domain": ["εd=2 di=3","εd=2 di=4","εd=3 di=3","εd=3 di=4","εd=4 di=3","εd=4 di=4"], "range": ["#FF0000","#0000FF","#00A600","#0000FF","#FF00FF","#FF0000"]},
              "legend": {"title": null, "orient": "bottom-left", "offset": 0, "padding": 14, "rowPadding": 21, "symbolSize": 400, "symbolStrokeWidth": 2.8, "symbolOpacity": 1, "labelFontSize": 24, "labelColor": "#000000", "labelOffset": 57, "strokeColor": "#262626", "fillColor": "#FFFFFF", "labelLimit": 300}},
            "shape": {"field": "s", "type": "nominal", "scale": {"domain": ["εd=2 di=3","εd=2 di=4","εd=3 di=3","εd=3 di=4","εd=4 di=3","εd=4 di=4"], "range": ["M-1.75,0H6.15","M-1.75,0H6.15M2.85,0A0.65,0.65,0,1,1,1.55,0A0.65,0.65,0,1,1,2.85,0Z","M-1.75,0H6.15M1.65,-0.55L2.75,0.55M1.65,0.55L2.75,-0.55","M-1.75,0H-0.15M1.4,0H3M4.55,0H6.15","M-1.75,0H6.15M2.2,-0.8V0.8","M-1.75,0H6.15M2.2,-0.85L2.8,0L2.2,0.85L1.6,0Z"]},
              "legend": {"title": null, "orient": "bottom-left", "offset": 0, "padding": 14, "rowPadding": 21, "symbolSize": 400, "symbolStrokeWidth": 2.8, "symbolOpacity": 1, "labelFontSize": 24, "labelColor": "#000000", "labelOffset": 57, "strokeColor": "#262626", "fillColor": "#FFFFFF", "labelLimit": 300}}
          }
        }
      ],
      "resolve": {"scale": {"color": "independent", "shape": "independent", "strokeDash": "independent"}, "axis": {"x": "independent", "y": "independent"}}
    }
  ],
  "config": {
    "font": "Liberation Sans",
    "view": {"stroke": "#262626", "strokeWidth": 1},
    "axis": {"labelFontSize": 21, "labelColor": "#262626", "titleFontSize": 25, "titleFontWeight": "normal", "titleColor": "#262626", "domainColor": "#262626", "tickColor": "#262626", "gridColor": "#D5D5D5", "gridWidth": 1, "gridOpacity": 1},
    "legend": {"labelFont": "Liberation Sans"}
  }
}
